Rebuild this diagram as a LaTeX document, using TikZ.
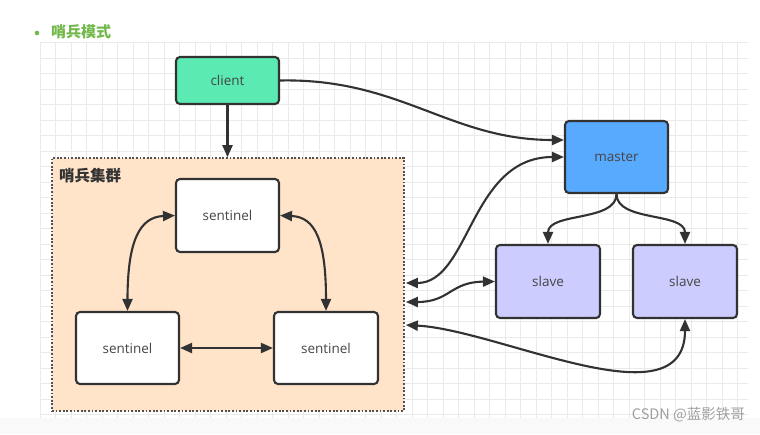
\documentclass[tikz,border=0pt]{standalone}
\usepackage{fontspec}
\setmainfont{Open Sans}
\newfontfamily\cjk{Noto Sans CJK SC}
\usetikzlibrary{arrows.meta}
\definecolor{edgec}{RGB}{50,50,50}
\definecolor{gridc}{RGB}{234,234,234}
\definecolor{clientc}{RGB}{90,234,178}
\definecolor{masterc}{RGB}{88,170,255}
\definecolor{slavec}{RGB}{204,204,255}
\definecolor{clusterc}{RGB}{255,228,202}
\definecolor{titlec}{RGB}{114,184,74}
\definecolor{txtc}{RGB}{70,70,70}
\tikzset{
  box/.style={draw=edgec, line width=2.1pt, rounded corners=4pt, inner sep=0pt,
    font=\fontsize{13.5}{15}\selectfont, text=txtc},
  link/.style={draw=edgec, line width=2.1pt, -{Triangle[length=12pt,width=10pt]}},
  dlink/.style={draw=edgec, line width=2.1pt, {Triangle[length=12pt,width=10pt]}-{Triangle[length=12pt,width=10pt]}},
}
\begin{document}
\begin{tikzpicture}[x=1pt,y=-1pt]
\useasboundingbox (0,0) rectangle (760,434);
\fill[white] (0,0) rectangle (760,434);
\fill[gray!5] (0,418) rectangle (760,434);
% grid
\foreach \i in {0,...,45} \draw[gridc, line width=0.9pt] (40+15.5*\i,42.5) -- (40+15.5*\i,418);
\foreach \j in {0,...,24} \draw[gridc, line width=0.9pt] (40,42.5+15.5*\j) -- (748,42.5+15.5*\j);
% title
\fill[titlec] (37,33) circle (2.3pt);
\node[anchor=west, inner sep=0pt, text=titlec, font=\cjk\bfseries\fontsize{15}{17}\selectfont] (title) at (51,32) {哨兵模式};
% cluster
\node[draw=edgec!85, fill=clusterc, line width=1.7pt, dash pattern=on 1.8pt off 1.8pt,
  minimum width=352pt, minimum height=253pt, inner sep=0pt] (cluster) at (228,284.5) {};
\node[anchor=west, inner sep=0pt, text=edgec, font=\cjk\bfseries\fontsize{15.5}{17}\selectfont] (clabel) at (59,175.5) {哨兵集群};
% nodes
\node[box, fill=clientc, minimum width=103pt, minimum height=47pt] (client) at (227.5,80.5) {client};
\node[box, fill=white, minimum width=103pt, minimum height=73pt] (s1) at (227.5,215.5) {sentinel};
\node[box, fill=white, minimum width=103pt, minimum height=72pt] (s2) at (127.5,348) {sentinel};
\node[box, fill=white, minimum width=104pt, minimum height=72pt] (s3) at (326,348) {sentinel};
\node[box, fill=masterc, minimum width=103pt, minimum height=72pt] (master) at (616.5,157) {master};
\node[box, fill=slavec, minimum width=104pt, minimum height=73pt] (sl1) at (548,281.5) {slave};
\node[box, fill=slavec, minimum width=104pt, minimum height=73pt] (sl2) at (685,281.5) {slave};
% connectors
\draw[link] (client.south) -- (cluster.north -| client.south);
\draw[link] (client.east) .. controls (400,78) and (450,140) .. ([yshift=17pt]master.west);
\draw[dlink] ([xshift=1pt,yshift=1.5pt]cluster.east) .. controls (470,283) and (470,157) .. (master.west);
\draw[dlink] ([xshift=1pt,yshift=-17.5pt]cluster.east) .. controls (450,302) and (450,282) .. (sl1.west);
\draw[dlink] ([xshift=1pt,yshift=-40.5pt]cluster.east) .. controls (500,330) and (685,425) .. (sl2.south);
\draw[link] (master.south) .. controls (616.5,222) and (548,212) .. (sl1.north);
\draw[link] (master.south) .. controls (616.5,222) and (685,212) .. (sl2.north);
\draw[dlink] (s1.west) .. controls (140,217) and (127.5,240) .. (s2.north);
\draw[dlink] (s1.east) .. controls (315,217) and (326,240) .. (s3.north);
\draw[dlink] (s2.east) -- (s3.west);
% watermark
\node[anchor=east, inner sep=0pt, text=gray!75, font=\cjk\fontsize{14.5}{16}\selectfont] (wm) at (745,415) {CSDN @蓝影铁哥};
\end{tikzpicture}
\end{document}
